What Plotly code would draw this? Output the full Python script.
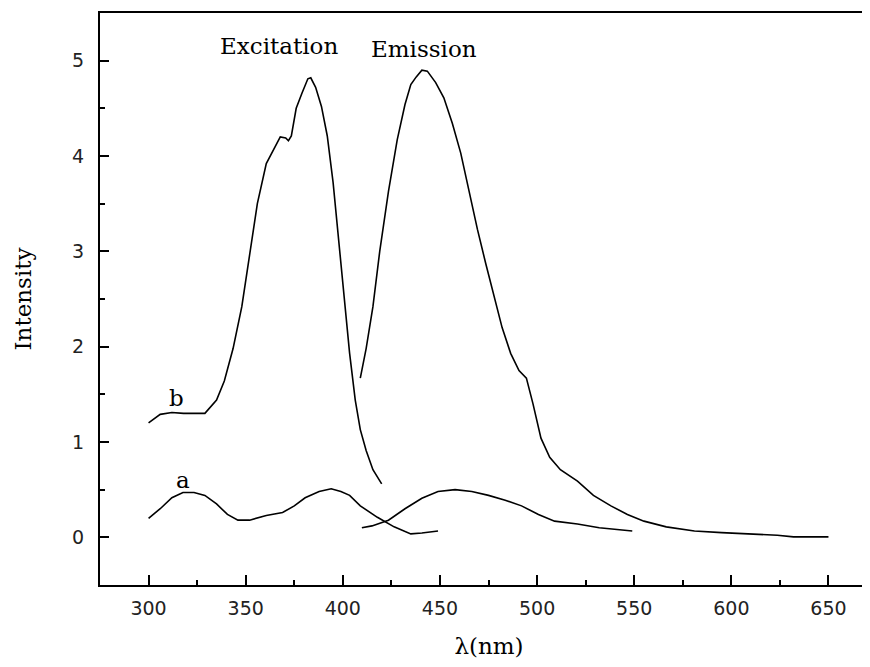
import plotly.graph_objects as go

# b - excitation spectrum
b_ex_x = [300, 306, 312, 318, 329, 335, 339, 343.5, 348, 352, 356, 360.6, 365, 367.8, 370.6, 372, 373.5,
          376, 379, 382, 383.5, 386, 389, 392, 395, 398, 400.7, 403.5, 406.4, 409, 412, 415.5, 420]
b_ex_y = [1.20, 1.29, 1.31, 1.30, 1.30, 1.44, 1.64, 1.98, 2.42, 2.96, 3.50, 3.92, 4.10, 4.20, 4.19, 4.16, 4.21,
          4.50, 4.66, 4.81, 4.82, 4.72, 4.52, 4.21, 3.72, 3.09, 2.51, 1.93, 1.44, 1.13, 0.91, 0.71, 0.56]

# b - emission spectrum
b_em_x = [409, 412, 415.5, 419, 423.5, 428, 432, 435, 437.8, 440.7, 443.5, 447.8, 452, 456.4, 460.7, 465,
          469.3, 473.6, 477.9, 482, 486.4, 490.7, 494.5, 497.9, 502, 506.5, 512, 520.8, 529, 538, 546.5,
          555, 566.5, 581, 595, 609, 623.7, 632, 650]
b_em_y = [1.67, 1.98, 2.42, 3.00, 3.63, 4.17, 4.54, 4.75, 4.83, 4.90, 4.89, 4.77, 4.61, 4.34, 4.03, 3.63,
          3.23, 2.87, 2.51, 2.20, 1.93, 1.75, 1.67, 1.40, 1.04, 0.84, 0.71, 0.59, 0.44, 0.33, 0.24,
          0.17, 0.11, 0.067, 0.049, 0.036, 0.022, 0.005, 0.005]

# a - excitation spectrum
a_ex_x = [300, 306, 312, 317.7, 323.4, 329, 335, 340.6, 346, 352, 360.6, 369, 375, 380.6, 387.8, 394,
          399, 403.5, 409, 417.8, 426.4, 435, 440.7, 449]
a_ex_y = [0.20, 0.30, 0.415, 0.47, 0.47, 0.44, 0.35, 0.24, 0.18, 0.18, 0.23, 0.26, 0.33, 0.415, 0.48, 0.51,
          0.48, 0.44, 0.33, 0.21, 0.11, 0.036, 0.045, 0.067]

# a - emission spectrum
a_em_x = [409.8, 415, 423.5, 432, 440.7, 449, 457.8, 466.4, 475, 483.6, 492, 500.7, 509, 520.8, 532, 549]
a_em_y = [0.10, 0.12, 0.18, 0.30, 0.41, 0.48, 0.50, 0.48, 0.44, 0.39, 0.33, 0.24, 0.17, 0.14, 0.10, 0.067]

x_ticks = [300, 350, 400, 450, 500, 550, 600, 650]
y_ticks = [0, 1, 2, 3, 4, 5]

fig = go.Figure()
for xs, ys in [(b_ex_x, b_ex_y), (b_em_x, b_em_y), (a_ex_x, a_ex_y), (a_em_x, a_em_y)]:
    fig.add_trace(go.Scatter(x=xs, y=ys, mode="lines", line=dict(color="black", width=1.6),
                             showlegend=False, hoverinfo="skip"))

serif = "DejaVu Serif, serif"
sans = "DejaVu Sans, sans-serif"

annots = [("Excitation", 367, 5.15), ("Emission", 442, 5.12), ("b", 314.6, 1.46), ("a", 317.7, 0.60)]
for t, x, y in annots:
    fig.add_annotation(x=x, y=y, text=t, showarrow=False, xref="x", yref="y",
                       font=dict(family=serif, size=23, color="black"))

fig.update_layout(
    width=870, height=651,
    margin=dict(l=92, r=0, t=5, b=74),
    plot_bgcolor="white", paper_bgcolor="white",
    xaxis=dict(range=[275, 675.5], tickvals=x_ticks, ticks="inside", ticklen=10, tickwidth=1.5,
               tickcolor="black", showline=True, linewidth=2, linecolor="black", mirror=True,
               showgrid=False, zeroline=False,
               minor=dict(dtick=25, tick0=275, ticks="inside", ticklen=5, tickwidth=1.5, tickcolor="black"),
               tickfont=dict(family=sans, size=19, color="#222"), ticklabelstandoff=5,
               title=dict(text="λ(nm)", font=dict(family=serif, size=23, color="black"), standoff=24)),
    yaxis=dict(range=[-0.5, 5.5], tickvals=y_ticks, ticks="inside", ticklen=9, tickwidth=1.5,
               tickcolor="black", showline=True, linewidth=2, linecolor="black", mirror=False,
               showgrid=False, zeroline=False,
               minor=dict(dtick=0.5, tick0=0, ticks="inside", ticklen=5, tickwidth=1.5, tickcolor="black"),
               tickfont=dict(family=sans, size=19, color="#222"), ticklabelstandoff=10,
               title=dict(text="Intensity", font=dict(family=serif, size=23, color="black"), standoff=34)),
)

fig.write_html("out.html")
